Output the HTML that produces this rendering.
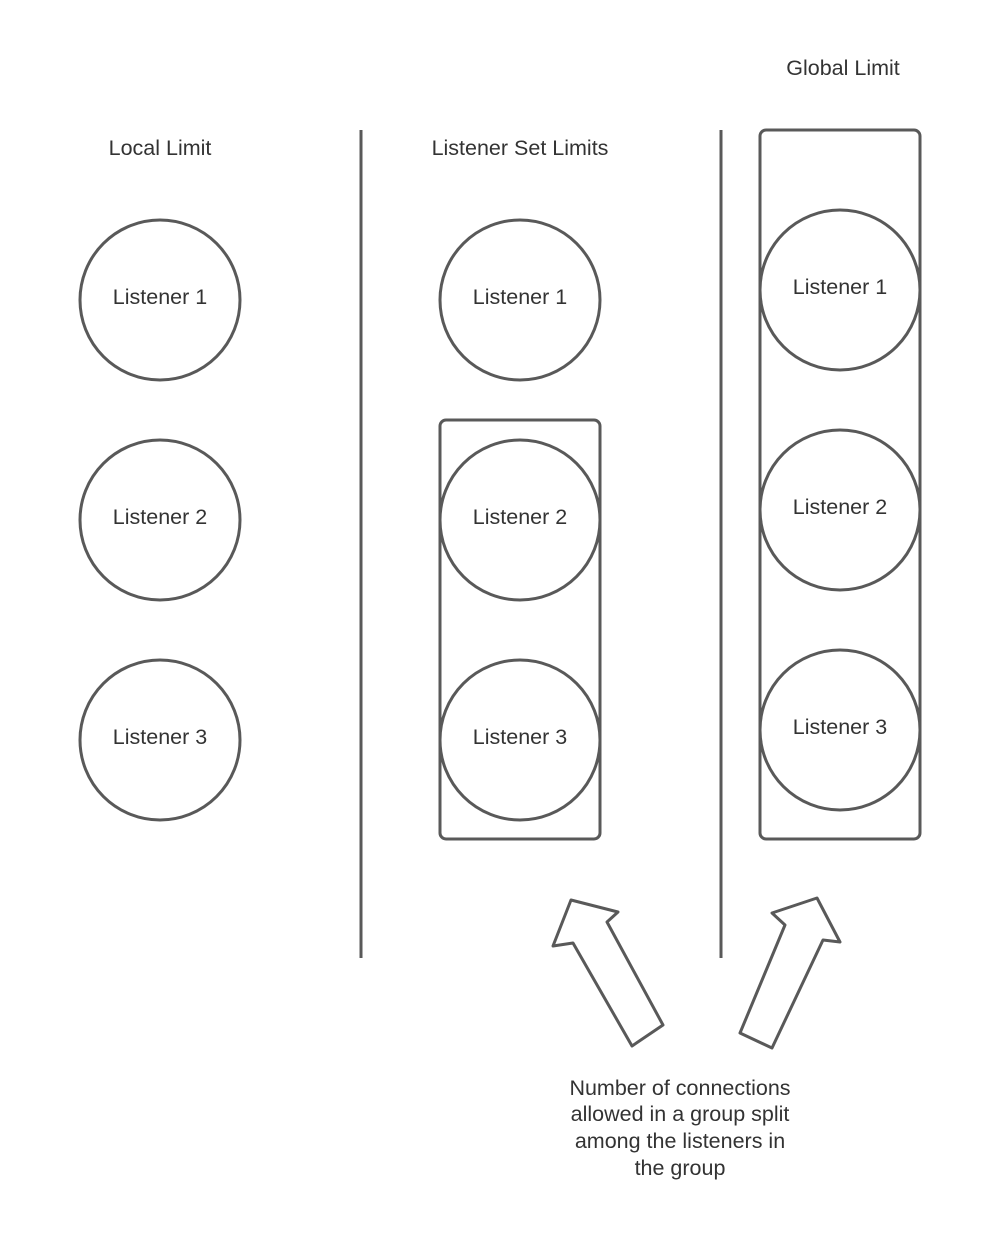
<!DOCTYPE html>
<html><head><meta charset="utf-8"><style>
html,body{margin:0;padding:0;background:#fff;}
svg text{font-family:"Liberation Sans",sans-serif;font-size:21.5px;fill:#333;}
</style></head><body>
<svg width="1003" height="1243" viewBox="0 0 1003 1243" xmlns="http://www.w3.org/2000/svg">
<g fill="none" stroke="#595959" stroke-width="3" stroke-linejoin="round">
<line x1="361" y1="130" x2="361" y2="958"/>
<line x1="721" y1="130" x2="721" y2="958"/>
<circle cx="160" cy="300" r="80"/>
<circle cx="160" cy="520" r="80"/>
<circle cx="160" cy="740" r="80"/>
<circle cx="520" cy="300" r="80"/>
<rect x="440" y="420" width="160" height="419" rx="6"/>
<circle cx="520" cy="520" r="80"/>
<circle cx="520" cy="740" r="80"/>
<rect x="760" y="130" width="160" height="709" rx="6"/>
<circle cx="840" cy="290" r="80"/>
<circle cx="840" cy="510" r="80"/>
<circle cx="840" cy="730" r="80"/>
<polygon points="571,900 618,912 607,922 663,1025 632,1046 573,943 553,946"/>
<polygon points="817,898 840,942 823,940 772,1048 740,1033 785,925 772,913"/>
</g>
<g text-anchor="middle">
<text x="160" y="155">Local Limit</text>
<text x="520" y="155">Listener Set Limits</text>
<text x="843" y="75">Global Limit</text>
<text x="160" y="304">Listener 1</text>
<text x="160" y="524">Listener 2</text>
<text x="160" y="744">Listener 3</text>
<text x="520" y="304">Listener 1</text>
<text x="520" y="524">Listener 2</text>
<text x="520" y="744">Listener 3</text>
<text x="840" y="294">Listener 1</text>
<text x="840" y="514">Listener 2</text>
<text x="840" y="734">Listener 3</text>
<text x="680" y="1095">Number of connections</text>
<text x="680" y="1121">allowed in a group split</text>
<text x="680" y="1148">among the listeners in</text>
<text x="680" y="1175">the group</text>
</g>
</svg>
</body></html>
